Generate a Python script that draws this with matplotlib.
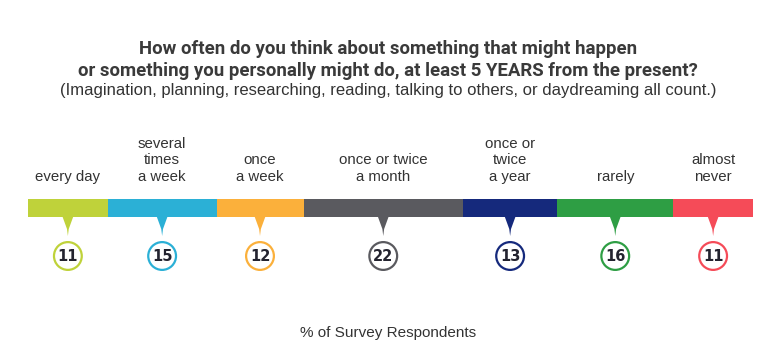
import numpy as np
import matplotlib.pyplot as plt
from matplotlib.patches import Polygon

# ---- data ----
categories = ['every day', 'several\ntimes\na week', 'once\na week', 'once or twice\na month',
              'once or\ntwice\na year', 'rarely', 'almost\nnever']
values = [11, 15, 12, 22, 13, 16, 11]
colors = ['#BFD23A', '#2BB0D6', '#FBB03B', '#5A5A5F', '#15297C', '#2E9E44', '#F54B58']

title = ('How often do you think about something that might happen\n'
         'or something you personally might do, at least 5 YEARS from the present?')
subtitle = '(Imagination, planning, researching, reading, talking to others, or daydreaming all count.)'
xlabel = '% of Survey Respondents'

W, H = 776, 363
fig = plt.figure(figsize=(W / 100, H / 100), dpi=100)
# axis in percent along x, pixel rows along y (inverted)
ax = fig.add_axes([28 / W, 0, 725 / W, 1])
ax.set_xlim(0, 100)
ax.set_ylim(H, 0)
ax.axis('off')

lefts = np.concatenate([[0], np.cumsum(values)[:-1]])
centers = lefts + np.array(values) / 2

BAR_TOP, BAR_BOT = 199, 217
ax.barh((BAR_TOP + BAR_BOT) / 2, values, left=lefts, height=BAR_BOT - BAR_TOP,
        color=colors, edgecolor='none')

# pointers under each segment
for c, col in zip(centers, colors):
    ax.add_patch(Polygon([(c - 0.75, BAR_BOT - 0.5), (c + 0.75, BAR_BOT - 0.5),
                          (c + 0.12, 229), (c, 236), (c - 0.12, 229)],
                         closed=True, facecolor=col, edgecolor='none'))

# circles with values
ax.scatter(centers, [256] * len(values), s=400, facecolor='white',
           edgecolors=colors, linewidths=1.6, zorder=3)
for c, v in zip(centers, values):
    ax.text(c, 256.5, str(v), ha='center', va='center', fontsize=10.5,
            fontweight='bold', color='#23232f', family='DejaVu Sans', zorder=4)

# category labels above the bar
for c, lab in zip(centers, categories):
    ax.text(c, 184, lab, ha='center', va='bottom', fontsize=10.8,
            family='Liberation Sans', color='#333333', linespacing=1.25)

fig.text(0.5, 1 - 60 / H, title, ha='center', va='center', fontsize=13.4,
         fontweight='bold', family='Roboto', color='#3a3a3a', linespacing=1.25)
fig.text(0.5, 1 - 90 / H, subtitle, ha='center', va='center', fontsize=12.0,
         family='Liberation Sans', color='#333333')
fig.text(0.5, 1 - 333 / H, xlabel, ha='center', va='center', fontsize=11,
         family='Liberation Sans', color='#333333')

fig.savefig('out.png', dpi=100, facecolor='white')
